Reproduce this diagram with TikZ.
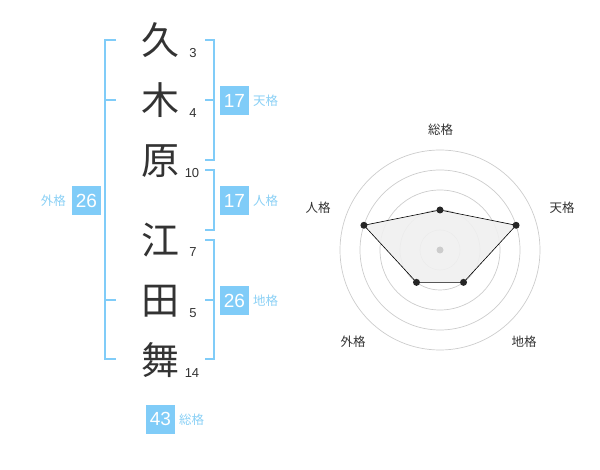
\documentclass[tikz,border=0pt]{standalone}
\usepackage{fontspec}
\setmainfont{Liberation Sans}
\newfontfamily\jp{Noto Sans CJK JP}
\definecolor{skyb}{HTML}{80CCF8}
\definecolor{labb}{HTML}{8AD0F5}
\definecolor{ink}{HTML}{333333}
\definecolor{ring}{HTML}{CCCCCC}
\definecolor{polyfill}{HTML}{F0F0F0}
\begin{document}
\begin{tikzpicture}[x=1pt,y=-1pt,
  kanji/.style={font=\jp\fontsize{38}{38}\selectfont, text=ink, inner sep=0, text height=33.4pt, text depth=4.6pt},
  strokes/.style={font=\fontsize{13}{13}\selectfont, text=ink, inner sep=0},
  numbox/.style={fill=skyb, text=white, inner sep=0, minimum size=29pt, font=\fontsize{19}{19}\selectfont},
  kaku/.style={font=\jp\fontsize{12.5}{12.5}\selectfont, text=labb, inner sep=0},
  axis/.style={font=\jp\fontsize{12.5}{12.5}\selectfont, text=ink, inner sep=0},
  brk/.style={draw=skyb, line width=2pt},
  dot/.style={circle, fill=black!85, inner sep=0, minimum size=7pt}]
\useasboundingbox (0,0) rectangle (600,470);
% kanji
\node[kanji] (k1) at (160,40) {久};
\node[kanji] (k2) at (160,100) {木};
\node[kanji] (k3) at (160,160) {原};
\node[kanji] (k4) at (160,240) {江};
\node[kanji] (k5) at (160,300) {田};
\node[kanji] (k6) at (160,360) {舞};
% stroke counts
\node[strokes] (s1) at (193,53) {3};
\node[strokes] (s2) at (193,113) {4};
\node[strokes] (s3) at (192,173) {10};
\node[strokes] (s4) at (193,252) {7};
\node[strokes] (s5) at (193,313) {5};
\node[strokes] (s6) at (192,373) {14};
% brackets
\draw[brk] (116,40) -- (105,40) -- (105,359) -- (116,359);
\draw[brk] (105,100) -- (116,100);
\draw[brk] (105,300) -- (116,300);
\draw[brk] (205,40) -- (214,40) -- (214,160) -- (205,160);
\draw[brk] (205,100) -- (214,100);
\draw[brk] (205,170) -- (214,170) -- (214,230) -- (205,230);
\draw[brk] (205,240) -- (214,240) -- (214,359) -- (205,359);
\draw[brk] (205,300) -- (214,300);
% boxes
\node[numbox] (ten) at (234.5,100.5) {17};
\node[kaku, anchor=west] (tenl) at (253,101) {天格};
\node[numbox] (jin) at (234.5,200.5) {17};
\node[kaku, anchor=west] (jinl) at (253,201) {人格};
\node[numbox] (chi) at (234.5,300.5) {26};
\node[kaku, anchor=west] (chil) at (253,301) {地格};
\node[numbox] (gai) at (86.5,200.5) {26};
\node[kaku, anchor=east] (gail) at (66,201) {外格};
\node[numbox] (sou) at (160.5,419) {43};
\node[kaku, anchor=west] (soul) at (179,420) {総格};
% radar
\begin{scope}[shift={(440,250)}, yscale=-1]
  \foreach \r in {20,40,60,80,100} \draw[ring, line width=0.7pt] (0,0) circle (\r);
  \coordinate (p1) at (90:40);
  \coordinate (p2) at (18:80);
  \coordinate (p3) at (-54:40);
  \coordinate (p4) at (234:40);
  \coordinate (p5) at (162:80);
  \filldraw[fill=polyfill, fill opacity=0.9, draw=black, line width=0.6pt] (p1) -- (p2) -- (p3) -- (p4) -- (p5) -- cycle;
  \node[dot] (d1) at (p1) {};
  \node[dot] (d2) at (p2) {};
  \node[dot] (d3) at (p3) {};
  \node[dot] (d4) at (p4) {};
  \node[dot] (d5) at (p5) {};
  \node[circle, fill=ring, inner sep=0, minimum size=7pt] (c0) at (0,0) {};
\end{scope}
\node[axis] (a1) at (440.5,130) {総格};
\node[axis] (a2) at (562,208) {天格};
\node[axis] (a3) at (318,208) {人格};
\node[axis] (a4) at (353,342) {外格};
\node[axis] (a5) at (524,342) {地格};
\end{tikzpicture}
\end{document}
